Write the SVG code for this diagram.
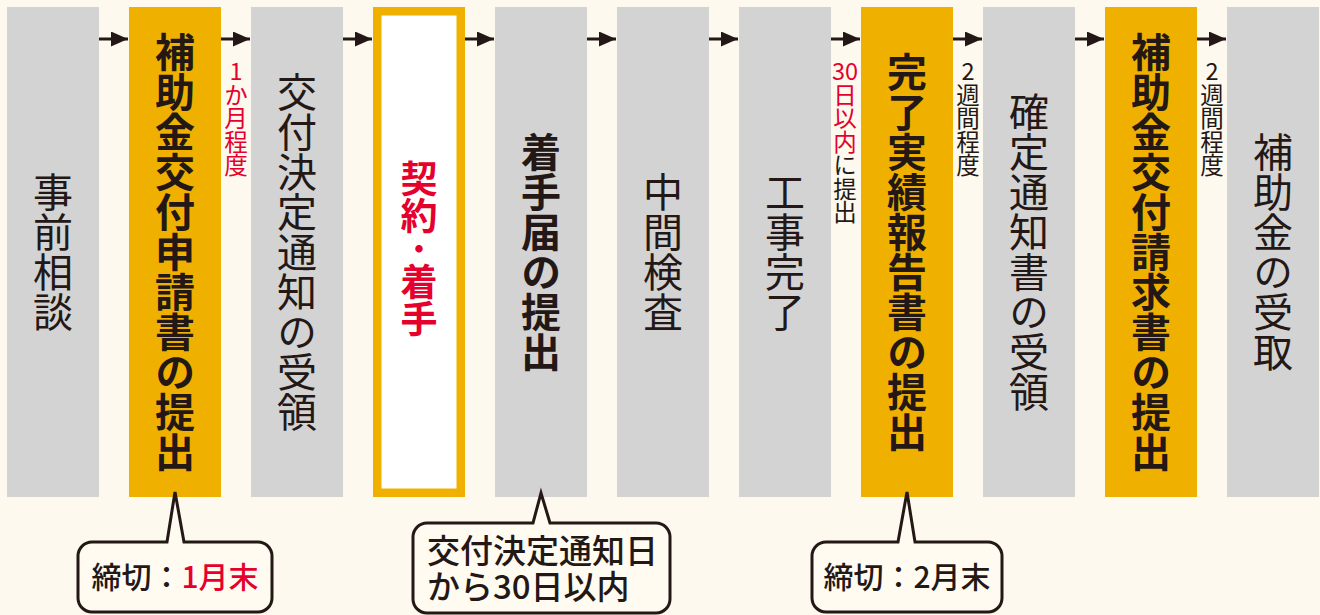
<svg xmlns="http://www.w3.org/2000/svg" width="1320" height="615" viewBox="0 0 1320 615">
<defs>
<style>
text{font-family:"Noto Sans CJK JP","Noto Sans",sans-serif;fill:#231815}
.v{writing-mode:vertical-rl;text-anchor:middle;font-size:40px}
.b{font-weight:bold}
.s{writing-mode:vertical-rl;text-orientation:upright;font-size:23.5px}
.d{font-size:23.5px;text-anchor:middle}
.red{fill:#e5002d}
.grey{fill:#d3d3d3}
.yel{fill:#f0b000}
.co{fill:#fffbf1;stroke:#231815;stroke-width:3;stroke-linejoin:miter}
.ct{font-weight:500}
</style>
<marker id="ah" viewBox="0 0 17 15" refX="17" refY="7.5" markerWidth="17" markerHeight="15" markerUnits="userSpaceOnUse" orient="auto">
<path d="M0,0 L17,7.5 L0,15 Z" fill="#231815"/>
</marker>
</defs>
<rect width="1320" height="615" fill="#fdf9ee"/>
<g id="n1"><rect class="grey" x="7" y="7" width="92" height="490"/><text class="v" x="53" y="252">事前相談</text></g>
<g id="n2"><rect class="yel" x="129" y="7" width="92" height="490"/><text class="v b" x="175" y="252">補助金交付申請書の提出</text></g>
<g id="n3"><rect class="grey" x="251" y="7" width="92" height="490"/><text class="v" x="297" y="252">交付決定通知の受領</text></g>
<g id="n4"><rect x="377.25" y="11.25" width="83.5" height="481.5" fill="#ffffff" stroke="#f0b000" stroke-width="8.5"/><text class="v b red" x="419" y="249" font-size="37" style="font-size:37px">契約<tspan style="font-size:29px">・</tspan>着手</text></g>
<g id="n5"><rect class="grey" x="495" y="7" width="92" height="490"/><text class="v b" x="541" y="252">着手届の提出</text></g>
<g id="n6"><rect class="grey" x="617" y="7" width="92" height="490"/><text class="v" x="663" y="252">中間検査</text></g>
<g id="n7"><rect class="grey" x="739" y="7" width="92" height="490"/><text class="v" x="785" y="252">工事完了</text></g>
<g id="n8"><rect class="yel" x="861" y="7" width="92" height="490"/><text class="v b" x="907" y="252">完了実績報告書の提出</text></g>
<g id="n9"><rect class="grey" x="983" y="7" width="92" height="490"/><text class="v" x="1029" y="252">確定通知書の受領</text></g>
<g id="n10"><rect class="yel" x="1105" y="7" width="92" height="490"/><text class="v b" x="1151" y="252">補助金交付請求書の提出</text></g>
<g id="n11"><rect class="grey" x="1227" y="7" width="92" height="490"/><text class="v" x="1273" y="252">補助金の受取</text></g>
<g id="connectors" stroke="#231815" stroke-width="3" fill="none" marker-end="url(#ah)">
<line x1="99" y1="39" x2="128" y2="39"/>
<line x1="221" y1="39" x2="250" y2="39"/>
<line x1="343" y1="39" x2="372" y2="39"/>
<line x1="465" y1="39" x2="494" y2="39"/>
<line x1="587" y1="39" x2="616" y2="39"/>
<line x1="709" y1="39" x2="738" y2="39"/>
<line x1="831" y1="39" x2="860" y2="39"/>
<line x1="953" y1="39" x2="982" y2="39"/>
<line x1="1075" y1="39" x2="1104" y2="39"/>
<line x1="1197" y1="39" x2="1226" y2="39"/>
</g>
<g id="labels">
<text class="d red" x="236" y="80">1</text>
<text class="s red" x="236" y="83">か月程度</text>
<text class="d red" x="845" y="80">30</text>
<text class="s" x="845" y="83"><tspan class="red">日以内</tspan>に提出</text>
<text class="d" x="968" y="80">2</text>
<text class="s" x="968" y="83">週間程度</text>
<text class="d" x="1212" y="80">2</text>
<text class="s" x="1212" y="83">週間程度</text>
</g>
<g id="callout1">
<path class="co" d="M92,542 H167 L175,492 L184,542 H258 A14,14 0 0 1 272,556 V598 A14,14 0 0 1 258,612 H92 A14,14 0 0 1 78,598 V556 A14,14 0 0 1 92,542 Z"/>
<text class="ct" x="175" y="588" font-size="30" text-anchor="middle">締切：<tspan class="red">1月末</tspan></text>
</g>
<g id="callout2">
<path class="co" d="M427,523 H533 L541,493 L550,523 H656 A14,14 0 0 1 670,537 V599 A14,14 0 0 1 656,613 H427 A14,14 0 0 1 413,599 V537 A14,14 0 0 1 427,523 Z"/>
<text class="ct" x="427" y="563" font-size="33">交付決定通知日</text>
<text class="ct" x="427" y="599" font-size="33">から30日以内</text>
</g>
<g id="callout3">
<path class="co" d="M826,542 H898 L907,492 L915,542 H988 A14,14 0 0 1 1002,556 V598 A14,14 0 0 1 988,612 H826 A14,14 0 0 1 812,598 V556 A14,14 0 0 1 826,542 Z"/>
<text class="ct" x="907" y="588" font-size="30" text-anchor="middle">締切：2月末</text>
</g>
</svg>
